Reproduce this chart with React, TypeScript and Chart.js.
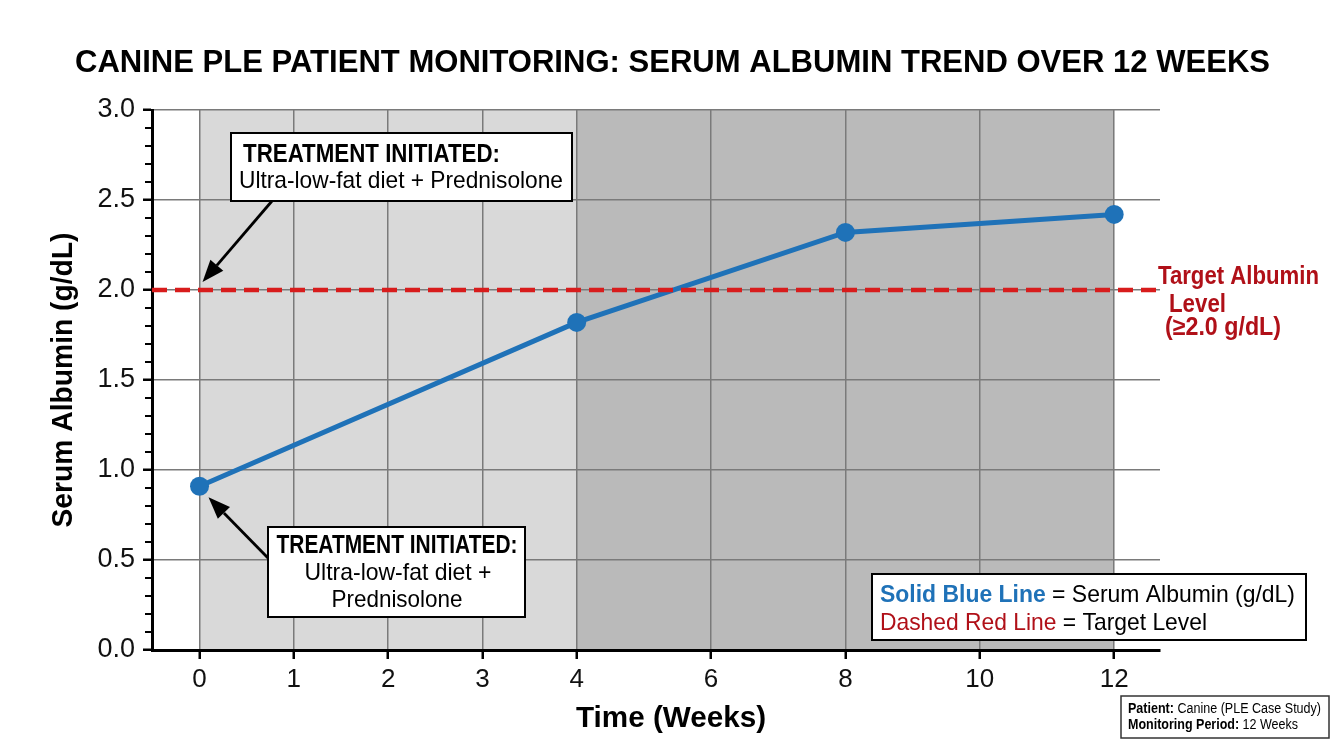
import { useEffect, useRef } from 'react';
import { Chart, registerables } from 'chart.js';

Chart.register(...registerables);

// ---------- data ----------
const weeks = [0, 4, 8, 12];
const albumin = [0.91, 1.82, 2.32, 2.42];
const targetLevel = 2.0;
const xTickWeeks = [0, 1, 2, 3, 4, 6, 8, 10, 12];
const xTickLabels = ['0', '1', '2', '3', '4', '6', '8', '10', '12'];
const phaseBounds = [0, 4, 12];
const titleText = 'CANINE PLE PATIENT MONITORING: SERUM ALBUMIN TREND OVER 12 WEEKS';
const xTitle = 'Time (Weeks)';
const yTitle = 'Serum Albumin (g/dL)';
const noteHeading = 'TREATMENT INITIATED:';
const noteTopBody = 'Ultra-low-fat diet + Prednisolone';
const noteBottomBody = ['Ultra-low-fat diet +', 'Prednisolone'];
const targetLabel = ['Target Albumin', 'Level', '(\u22652.0 g/dL)'];

// x axis: weeks 0-4 drawn wider than weeks 4-12 (as in the source figure)
const COMPRESS = 0.7125;
const toAxis = (w: number) => (w <= 4 ? w : 4 + (w - 4) * COMPRESS);
const X_MIN = -0.504;
const X_MAX = 10.186;

const FAM = '"Liberation Sans", Arial, sans-serif';
const f = (w: string, s: number) => `${w} ${s}px ${FAM}`;

const BLUE = '#1f72b8';
const RED = '#d81c1c';
const DARKRED = '#b01018';

function drawFit(ctx: CanvasRenderingContext2D, text: string, x: number, y: number, width: number, align: 'left' | 'center' | 'right' = 'left') {
  const w = ctx.measureText(text).width;
  const s = width / w;
  ctx.save();
  ctx.translate(x, y);
  ctx.scale(s, 1);
  ctx.textAlign = 'left';
  const off = align === 'left' ? 0 : align === 'center' ? -w / 2 : -w;
  ctx.fillText(text, off, 0);
  ctx.restore();
}

type Part = { text: string; font: string; color: string };
function drawRich(ctx: CanvasRenderingContext2D, parts: Part[], x: number, y: number, width: number) {
  let total = 0;
  const ws = parts.map((p) => {
    ctx.font = p.font;
    const w = ctx.measureText(p.text).width;
    total += w;
    return w;
  });
  const s = width / total;
  ctx.save();
  ctx.translate(x, y);
  ctx.scale(s, 1);
  ctx.textAlign = 'left';
  ctx.textBaseline = 'alphabetic';
  let cx = 0;
  parts.forEach((p, i) => {
    ctx.font = p.font;
    ctx.fillStyle = p.color;
    ctx.fillText(p.text, cx, 0);
    cx += ws[i];
  });
  ctx.restore();
}

function box(ctx: CanvasRenderingContext2D, x0: number, y0: number, x1: number, y1: number, lw: number, color: string) {
  ctx.save();
  ctx.fillStyle = '#ffffff';
  ctx.fillRect(x0, y0, x1 - x0, y1 - y0);
  ctx.strokeStyle = color;
  ctx.lineWidth = lw;
  ctx.strokeRect(x0, y0, x1 - x0, y1 - y0);
  ctx.restore();
}

function arrow(ctx: CanvasRenderingContext2D, x0: number, y0: number, x1: number, y1: number) {
  const ang = Math.atan2(y1 - y0, x1 - x0);
  const head = 22;
  const half = 8.5;
  const bx = x1 - head * Math.cos(ang);
  const by = y1 - head * Math.sin(ang);
  ctx.save();
  ctx.strokeStyle = '#000';
  ctx.fillStyle = '#000';
  ctx.lineWidth = 2.8;
  ctx.beginPath();
  ctx.moveTo(x0, y0);
  ctx.lineTo(bx, by);
  ctx.stroke();
  ctx.beginPath();
  ctx.moveTo(x1, y1);
  ctx.lineTo(bx + half * Math.sin(ang), by - half * Math.cos(ang));
  ctx.lineTo(bx - half * Math.sin(ang), by + half * Math.cos(ang));
  ctx.closePath();
  ctx.fill();
  ctx.restore();
}

const decorPlugin = {
  id: 'decor',
  beforeDraw(chart: any) {
    const { ctx, chartArea, scales } = chart;
    const xs = scales.x;
    ctx.save();
    ctx.fillStyle = '#ffffff';
    ctx.fillRect(0, 0, chart.width, chart.height);
    const p0 = xs.getPixelForValue(toAxis(phaseBounds[0]));
    const p1 = xs.getPixelForValue(toAxis(phaseBounds[1]));
    const p2 = xs.getPixelForValue(toAxis(phaseBounds[2]));
    ctx.fillStyle = '#d9d9d9';
    ctx.fillRect(p0, chartArea.top, p1 - p0, chartArea.bottom - chartArea.top);
    ctx.fillStyle = '#bababa';
    ctx.fillRect(p1, chartArea.top, p2 - p1, chartArea.bottom - chartArea.top);
    ctx.restore();
  },
  afterDraw(chart: any) {
    const { ctx, chartArea, scales } = chart;
    const xs = scales.x;
    const ys = scales.y;
    ctx.save();

    // minor y ticks
    ctx.strokeStyle = '#000';
    ctx.lineWidth = 2;
    for (let i = 0; i <= 30; i++) {
      if (i % 5 === 0) continue;
      const py = Math.round(ys.getPixelForValue(i / 10));
      ctx.beginPath();
      ctx.moveTo(chartArea.left - 7, py);
      ctx.lineTo(chartArea.left, py);
      ctx.stroke();
    }

    ctx.textBaseline = 'alphabetic';
    // title
    ctx.fillStyle = '#000';
    ctx.font = f('bold', 32);
    drawFit(ctx, titleText, 672.5, 72, 1195, 'center');

    // axis titles
    ctx.font = f('bold', 29);
    drawFit(ctx, xTitle, 671, 727, 190, 'center');
    ctx.save();
    ctx.translate(72, (chartArea.top + chartArea.bottom) / 2);
    ctx.rotate(-Math.PI / 2);
    ctx.font = f('bold', 29);
    drawFit(ctx, yTitle, 0, 0, 295, 'center');
    ctx.restore();

    // target label
    ctx.fillStyle = DARKRED;
    ctx.font = f('bold', 25);
    drawFit(ctx, targetLabel[0], 1158, 284, 161);
    drawFit(ctx, targetLabel[1], 1169, 312, 57);
    drawFit(ctx, targetLabel[2], 1165, 335, 116);

    const x0 = xs.getPixelForValue(toAxis(weeks[0]));
    const yT = ys.getPixelForValue(targetLevel);
    const yA = ys.getPixelForValue(albumin[0]);

    // top note
    arrow(ctx, 272, 201, x0 + 3, yT - 8);
    box(ctx, 231, 133, 572, 201, 2, '#000');
    ctx.fillStyle = '#000';
    ctx.font = f('bold', 26);
    drawFit(ctx, noteHeading, 243, 162, 257);
    ctx.font = f('normal', 24);
    drawFit(ctx, noteTopBody, 239, 188, 324);

    // bottom note
    arrow(ctx, 268, 558, x0 + 9, yA + 11);
    box(ctx, 268, 527, 525, 617, 2, '#000');
    ctx.fillStyle = '#000';
    ctx.font = f('bold', 26);
    drawFit(ctx, noteHeading, 397, 553, 241, 'center');
    ctx.font = f('normal', 24);
    drawFit(ctx, noteBottomBody[0], 398, 580, 187, 'center');
    drawFit(ctx, noteBottomBody[1], 397, 607, 131, 'center');

    // legend box
    box(ctx, 872, 574, 1306, 640, 2, '#000');
    drawRich(ctx, [
      { text: 'Solid Blue Line', font: f('bold', 24), color: BLUE },
      { text: ' = Serum Albumin (g/dL)', font: f('normal', 24), color: '#000' },
    ], 880, 602, 415);
    drawRich(ctx, [
      { text: 'Dashed Red Line', font: f('normal', 24), color: DARKRED },
      { text: ' = Target Level', font: f('normal', 24), color: '#000' },
    ], 880, 630, 327);

    // patient box
    box(ctx, 1121, 696, 1329, 738, 1.5, '#333');
    drawRich(ctx, [
      { text: 'Patient:', font: f('bold', 14), color: '#000' },
      { text: ' Canine (PLE Case Study)', font: f('normal', 14), color: '#000' },
    ], 1128, 713, 193);
    drawRich(ctx, [
      { text: 'Monitoring Period:', font: f('bold', 14), color: '#000' },
      { text: ' 12 Weeks', font: f('normal', 14), color: '#000' },
    ], 1128, 729, 170);

    ctx.restore();
  },
};

export default function App() {
  const ref = useRef<HTMLCanvasElement | null>(null);
  useEffect(() => {
    if (!ref.current) return;
    const chart = new Chart(ref.current, {
      type: 'line',
      data: {
        datasets: [
          {
            label: 'Target Level',
            data: [
              { x: X_MIN, y: targetLevel },
              { x: X_MAX, y: targetLevel },
            ],
            borderColor: RED,
            borderWidth: 4.5,
            borderDash: [15, 8],
            pointRadius: 0,
            fill: false,
          },
          {
            label: 'Serum Albumin (g/dL)',
            data: weeks.map((w, i) => ({ x: toAxis(w), y: albumin[i] })),
            borderColor: BLUE,
            backgroundColor: BLUE,
            borderWidth: 5,
            pointRadius: 9.5,
            pointBackgroundColor: BLUE,
            pointBorderColor: BLUE,
            pointBorderWidth: 0,
            fill: false,
            tension: 0,
          },
        ],
      },
      options: {
        responsive: false,
        animation: false,
        events: [],
        layout: { padding: { top: 110, right: 184, left: 0, bottom: 0 } },
        plugins: {
          legend: { display: false },
          title: { display: false },
          tooltip: { enabled: false },
        },
        scales: {
          x: {
            type: 'linear',
            min: X_MIN,
            max: X_MAX,
            afterBuildTicks: (scale: any) => {
              scale.ticks = xTickWeeks.map((w) => ({ value: toAxis(w) }));
            },
            afterFit: (scale: any) => {
              scale.height = 100;
            },
            ticks: {
              autoSkip: false,
              maxRotation: 0,
              padding: 5,
              color: '#111',
              font: { family: FAM, size: 26 },
              callback: (_v: any, i: number) => xTickLabels[i],
            },
            grid: {
              color: '#7a7a7a',
              lineWidth: 1.5,
              tickColor: '#000',
              tickWidth: 2.5,
              tickLength: 9,
            },
            border: { color: '#000', width: 3 },
          },
          y: {
            type: 'linear',
            min: 0,
            max: 3,
            afterFit: (scale: any) => {
              scale.width = 152;
            },
            ticks: {
              stepSize: 0.5,
              padding: 8,
              color: '#111',
              font: { family: FAM, size: 27 },
              callback: (v: any) => Number(v).toFixed(1),
            },
            grid: {
              color: '#7a7a7a',
              lineWidth: 1.5,
              tickColor: '#000',
              tickWidth: 2.5,
              tickLength: 9,
            },
            border: { color: '#000', width: 3 },
          },
        },
      },
      plugins: [decorPlugin],
    } as any);
    return () => chart.destroy();
  }, []);
  return (
    <div style={{ position: 'absolute', left: 0, top: 0, width: 1344, height: 750 }}>
      <canvas ref={ref} width={1344} height={750} style={{ display: 'block' }} />
    </div>
  );
}
